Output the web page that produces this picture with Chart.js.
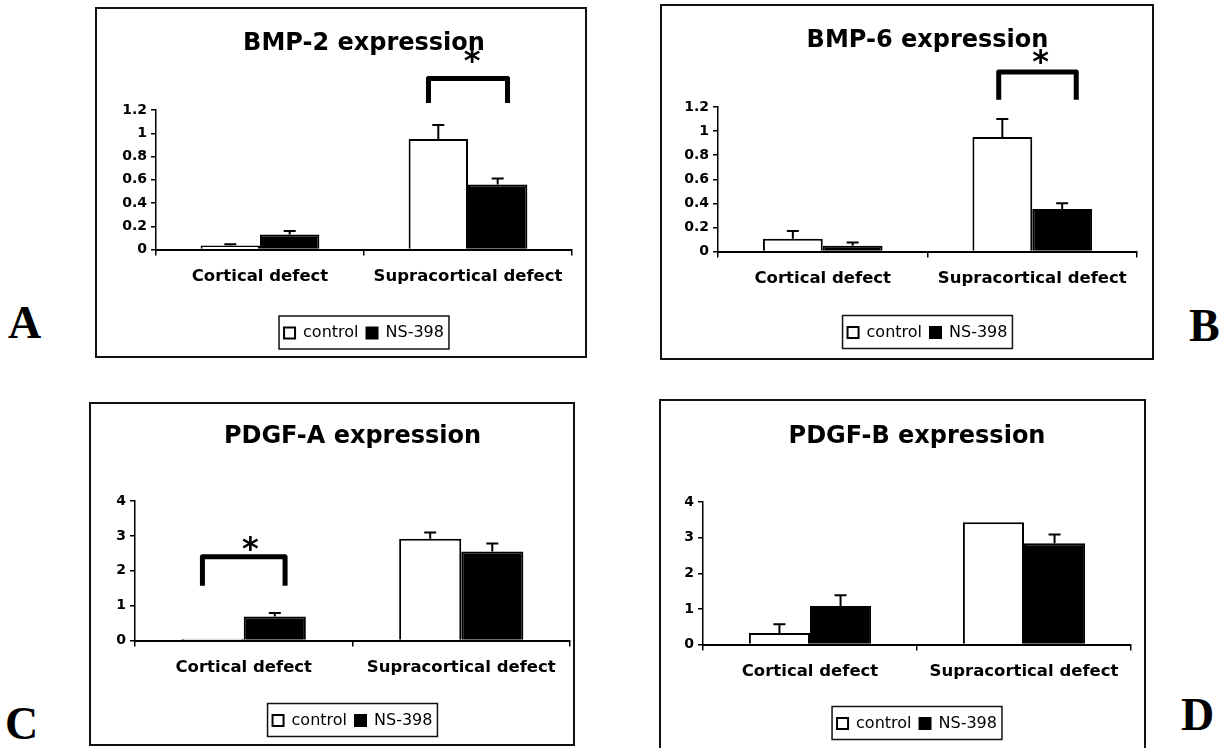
<!DOCTYPE html>
<html>
<head>
<meta charset="utf-8">
<script src="https://cdn.jsdelivr.net/npm/chart.js@4.4.1/dist/chart.umd.min.js"></script>
<style>
  html, body { margin:0; padding:0; background:#fff; width:1227px; height:748px; overflow:hidden; }
  .frame { position:absolute; border:2px solid #111; box-sizing:border-box; }
  canvas.cv { position:absolute; }
  .letter { position:absolute; font-family:"Liberation Serif","DejaVu Serif",serif; font-weight:bold; font-size:46px; color:#000; line-height:1; }
</style>
</head>
<body>
<div class="frame" style="left:95px;top:7px;width:492px;height:351px"></div>
<canvas id="cA" class="cv" width="492" height="351" style="left:95px;top:7px"></canvas>
<div class="frame" style="left:660px;top:4px;width:494px;height:356px"></div>
<canvas id="cB" class="cv" width="494" height="356" style="left:660px;top:4px"></canvas>
<div class="frame" style="left:89px;top:402px;width:486px;height:344px"></div>
<canvas id="cC" class="cv" width="486" height="344" style="left:89px;top:402px"></canvas>
<div class="frame" style="left:659px;top:399px;width:487px;height:360px"></div>
<canvas id="cD" class="cv" width="487" height="360" style="left:659px;top:399px"></canvas>

<div class="letter" style="left:8px;top:300px">A</div>
<div class="letter" style="left:1189px;top:303px">B</div>
<div class="letter" style="left:5px;top:701px">C</div>
<div class="letter" style="left:1181px;top:692px">D</div>

<script>
// ---------- data ----------
const categories = ['Cortical defect', 'Supracortical defect'];
const seriesNames = ['control', 'NS-398'];

// A: BMP-2
const bmp2Control    = [0.035, 0.95];
const bmp2ControlErr = [0.010, 0.12];
const bmp2Ns         = [0.13, 0.56];
const bmp2NsErr      = [0.03, 0.05];
// B: BMP-6
const bmp6Control    = [0.105, 0.95];
const bmp6ControlErr = [0.065, 0.15];
const bmp6Ns         = [0.047, 0.353];
const bmp6NsErr      = [0.028, 0.047];
// C: PDGF-A
const pdgfaControl    = [0.05, 2.92];
const pdgfaControlErr = [0, 0.18];
const pdgfaNs         = [0.69, 2.55];
const pdgfaNsErr      = [0.10, 0.23];
// D: PDGF-B
const pdgfbControl    = [0.32, 3.43];
const pdgfbControlErr = [0.25, 0];
const pdgfbNs         = [1.08, 2.84];
const pdgfbNsErr      = [0.30, 0.25];

// tick labels
const bmpTickLabels  = ['0', '0.2', '0.4', '0.6', '0.8', '1', '1.2'];
const pdgfTickLabels = ['0', '1', '2', '3', '4'];

// significance brackets: [left x, right x (category units), top y, leg end y] and star [x, y]
const bracketA = [0.81, 1.19, 1.47, 1.26];
const starA    = [1.02, 1.66];
const bracketB = [0.84, 1.21, 1.49, 1.26];
const starB    = [1.04, 1.61];
const bracketC = [-0.19, 0.19, 2.40, 1.57];
const starC    = [0.03, 2.75];

// ---------- plugins ----------
const errorBarPlugin = {
  id: 'errorBars',
  afterDatasetsDraw(chart) {
    const ctx = chart.ctx, y = chart.scales.y;
    chart.data.datasets.forEach((ds, i) => {
      const meta = chart.getDatasetMeta(i);
      meta.data.forEach((el, j) => {
        const e = ds.errorUp[j];
        if (!e) return;
        const y1 = el.y, y2 = y.getPixelForValue(ds.data[j] + e);
        ctx.save();
        ctx.strokeStyle = '#000'; ctx.lineWidth = 2;
        ctx.beginPath();
        ctx.moveTo(el.x, y1); ctx.lineTo(el.x, y2);
        ctx.moveTo(el.x - 6, y2); ctx.lineTo(el.x + 6, y2);
        ctx.stroke();
        ctx.restore();
      });
    });
  }
};

const sigPlugin = {
  id: 'sigMark',
  afterDraw(chart, args, opts) {
    if (!opts || !opts.bracket) return;
    const ctx = chart.ctx, xs = chart.scales.x, ys = chart.scales.y;
    const [xl, xr, yt, yb] = opts.bracket;
    const pl = xs.getPixelForValue(xl), pr = xs.getPixelForValue(xr);
    const pt = ys.getPixelForValue(yt), pb = ys.getPixelForValue(yb);
    ctx.save();
    ctx.strokeStyle = '#000'; ctx.lineWidth = 5; ctx.lineJoin = 'round'; ctx.lineCap = 'butt';
    ctx.beginPath();
    ctx.moveTo(pl, pb); ctx.lineTo(pl, pt); ctx.lineTo(pr, pt); ctx.lineTo(pr, pb);
    ctx.stroke();
    ctx.fillStyle = '#000';
    ctx.font = 'bold 32px "DejaVu Sans"';
    ctx.textAlign = 'center'; ctx.textBaseline = 'middle';
    ctx.fillText('*', xs.getPixelForValue(opts.star[0]), ys.getPixelForValue(opts.star[1]) + 6);
    ctx.restore();
  }
};

const legendFramePlugin = {
  id: 'legendFrame',
  afterDraw(chart) {
    const lg = chart.legend;
    if (!lg || !lg.legendHitBoxes || !lg.legendHitBoxes.length) return;
    const hb = lg.legendHitBoxes;
    let l = Infinity, r = -Infinity, t = Infinity, b = -Infinity;
    hb.forEach(h => { l = Math.min(l, h.left); r = Math.max(r, h.left + h.width); t = Math.min(t, h.top); b = Math.max(b, h.top + h.height); });
    const ctx = chart.ctx;
    ctx.save();
    ctx.strokeStyle = '#111'; ctx.lineWidth = 1.5;
    ctx.strokeRect(l - 5, t - 9, (r - l) + 10, (b - t) + 17);
    ctx.restore();
  }
};

// ---------- chart builder ----------
function makeChart(id, cfg) {
  const ticksVals = cfg.tickLabels.map(Number);
  return new Chart(document.getElementById(id), {
    type: 'bar',
    data: {
      labels: categories,
      datasets: [
        { label: seriesNames[0], data: cfg.control, errorUp: cfg.controlErr,
          backgroundColor: '#ffffff', borderColor: '#000', borderWidth: 2 },
        { label: seriesNames[1], data: cfg.ns, errorUp: cfg.nsErr,
          backgroundColor: '#000000', borderColor: '#000', borderWidth: 2 }
      ]
    },
    options: {
      responsive: false,
      animation: false,
      devicePixelRatio: 1,
      layout: { padding: { top: 0, left: 0, right: cfg.padRight, bottom: cfg.padBottom } },
      datasets: { bar: { categoryPercentage: 0.571, barPercentage: 1.0 } },
      scales: {
        x: {
          offset: true,
          afterFit: s => { s.height = cfg.xHeight; },
          grid: { display: true, drawOnChartArea: false, drawTicks: true, tickLength: 6, color: '#000', lineWidth: 1.5, offset: true },
          border: { display: true, color: '#000', width: 2 },
          ticks: { color: '#000', font: { family: '"DejaVu Sans"', weight: 'bold', size: 16.5 }, padding: 11, maxRotation: 0, minRotation: 0, autoSkip: false }
        },
        y: {
          min: 0, max: ticksVals[ticksVals.length - 1],
          afterFit: s => { s.width = cfg.yWidth; },
          afterBuildTicks: s => { s.ticks = ticksVals.map(v => ({ value: v })); },
          grid: { display: true, drawOnChartArea: false, drawTicks: true, tickLength: 5, color: '#000', lineWidth: 1.5 },
          border: { display: true, color: '#000', width: 1.5 },
          ticks: { color: '#000', font: { family: '"DejaVu Sans"', weight: 'bold', size: 14 }, padding: 4,
                   callback: (v, i) => cfg.tickLabels[i] }
        }
      },
      plugins: {
        title: { display: true, text: cfg.title, fullSize: false, color: '#000',
                 font: { family: '"DejaVu Sans"', weight: 'bold', size: 24, lineHeight: 1.2 },
                 padding: { top: cfg.titleTop, bottom: cfg.titleBottom } },
        legend: { display: true, position: 'bottom', fullSize: false,
                  labels: { color: '#000', font: { family: '"DejaVu Sans"', size: 16 }, boxWidth: 11, boxHeight: 11, padding: 8 } },
        tooltip: { enabled: false },
        sigMark: cfg.bracket ? { bracket: cfg.bracket, star: cfg.star } : {}
      }
    },
    plugins: [errorBarPlugin, sigPlugin, legendFramePlugin]
  });
}

makeChart('cA', { title: 'BMP-2 expression', control: bmp2Control, controlErr: bmp2ControlErr, ns: bmp2Ns, nsErr: bmp2NsErr,
  tickLabels: bmpTickLabels, yWidth: 61, xHeight: 67.5, padRight: 15, padBottom: 7, titleTop: 22.6, titleBottom: 51.6,
  bracket: bracketA, star: starA });
makeChart('cB', { title: 'BMP-6 expression', control: bmp6Control, controlErr: bmp6ControlErr, ns: bmp6Ns, nsErr: bmp6NsErr,
  tickLabels: bmpTickLabels, yWidth: 58, xHeight: 65, padRight: 17, padBottom: 9.5, titleTop: 22.6, titleBottom: 51.6,
  bracket: bracketB, star: starB });
makeChart('cC', { title: 'PDGF-A expression', control: pdgfaControl, controlErr: pdgfaControlErr, ns: pdgfaNs, nsErr: pdgfaNsErr,
  tickLabels: pdgfTickLabels, yWidth: 46, xHeight: 64, padRight: 5, padBottom: 7.5, titleTop: 20.6, titleBottom: 49.6,
  bracket: bracketC, star: starC });
makeChart('cD', { title: 'PDGF-B expression', control: pdgfbControl, controlErr: pdgfbControlErr, ns: pdgfbNs, nsErr: pdgfbNsErr,
  tickLabels: pdgfTickLabels, yWidth: 44, xHeight: 63, padRight: 15, padBottom: 17.5, titleTop: 23.6, titleBottom: 50.6 });
</script>
</body>
</html>
